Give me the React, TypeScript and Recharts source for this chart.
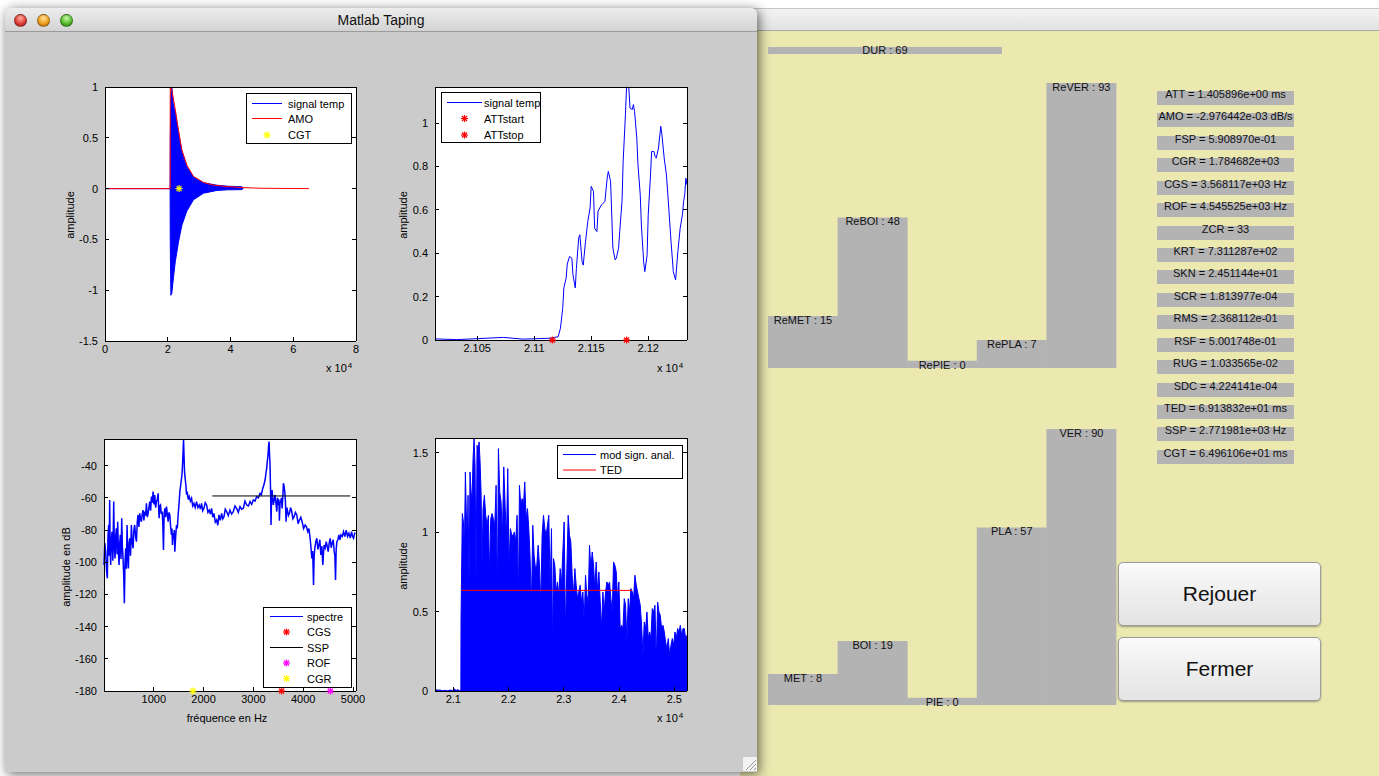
import React from 'react';
import {
  ComposedChart,
  Line,
  Area,
  Scatter,
  XAxis,
  YAxis,
  CartesianGrid,
  BarChart,
  Bar,
  LabelList,
} from 'recharts';

const FONT = '"Liberation Sans", Arial, Helvetica, sans-serif';

// ---- plot 1 : signal temp (x, [low, high]) and AMO envelope
const SIG_ENVELOPE: [number, number, number][] = [
  [0, 0, 0], [20750, 0, 0], [20800, -0.55, 0.5], [21000, -1.05, 0.92], [21300, -1.03, 1.0],
  [21800, -0.88, 0.82], [22400, -0.72, 0.75], [23400, -0.53, 0.56], [24500, -0.36, 0.37],
  [26100, -0.22, 0.22], [28200, -0.11, 0.115], [31400, -0.045, 0.058], [35700, -0.018, 0.033],
  [39000, -0.012, 0.024], [43700, -0.01, 0.018], [44000, 0, 0],
];
const AMO: [number, number][] = [
  [0, 0], [20770, 0], [20800, 1.0], [21300, 0.97], [22400, 0.78], [23400, 0.58], [24500, 0.38],
  [26100, 0.23], [28200, 0.12], [31400, 0.06], [34600, 0.034], [38900, 0.02], [44000, 0.01],
  [50000, 0.003], [65000, 0],
];
const CGT: [number, number][] = [[23600, 0]];

// ---- plot 2 : attack zoom
const SIG_ZOOM: [number, number][] = [
  [21013, 0.005], [21032, 0.002], [21050, 0.006], [21073, 0.012], [21090, 0.004], [21114, 0.008],
  [21121, 0.015], [21123, 0.054], [21125, 0.146], [21126, 0.24], [21128, 0.285], [21129, 0.35],
  [21131, 0.385], [21133, 0.377], [21134, 0.3], [21136, 0.24], [21137, 0.33], [21139, 0.47],
  [21140, 0.485], [21142, 0.36], [21143, 0.345], [21145, 0.454], [21147, 0.546], [21149, 0.608],
  [21150, 0.708], [21152, 0.685], [21153, 0.515], [21155, 0.5], [21156, 0.594], [21159, 0.623],
  [21162, 0.638], [21164, 0.746], [21165, 0.777], [21167, 0.731], [21168, 0.577], [21169, 0.423],
  [21171, 0.369], [21172, 0.377], [21174, 0.423], [21175, 0.5], [21177, 0.638], [21178, 0.823],
  [21180, 1.038], [21181, 1.166], [21183, 1.16], [21184, 1.069], [21186, 1.062], [21187, 1.085],
  [21188, 1.054], [21190, 0.93], [21191, 0.808], [21193, 0.669], [21194, 0.53], [21196, 0.36],
  [21197, 0.315], [21199, 0.39], [21200, 0.577], [21202, 0.76], [21203, 0.869], [21205, 0.869],
  [21206, 0.846], [21207, 0.838], [21209, 0.885], [21211, 0.985], [21212, 0.946], [21214, 0.838],
  [21216, 0.76], [21218, 0.608], [21220, 0.454], [21222, 0.315], [21224, 0.277], [21226, 0.408],
  [21228, 0.515], [21230, 0.577], [21231, 0.638], [21232, 0.669], [21233, 0.746], [21234, 0.715],
];
const ATT_START: [number, number][] = [[21116, 0]];
const ATT_STOP: [number, number][] = [[21181, 0]];

// ---- plot 3 : spectre (Hz, dB)
const SPECTRE: [number, number][] = [
  [0, -101.7], [17, -88], [34, -93.4], [50, -105], [67, -110], [80, -84], [94, -76.8], [104, -96],
  [114, -61.3], [124, -92], [134, -101.7], [148, -86], [161, -81], [178, -99], [195, -62.3],
  [208, -90], [221, -97.6], [235, -84], [248, -78.9], [262, -95], [275, -74.8], [288, -92],
  [302, -101.7], [316, -88], [329, -83], [342, -98], [356, -72.7], [369, -90], [382, -97.6],
  [396, -108], [409, -125.5], [422, -100], [436, -91.3], [450, -104], [463, -76.8], [476, -95],
  [490, -103.8], [503, -88], [517, -85.1], [533, -96], [550, -76.8], [567, -88], [584, -91.3],
  [600, -80], [617, -76.8], [634, -84], [651, -87.2], [668, -75], [684, -70.6], [701, -78],
  [718, -69.6], [735, -73], [751, -74.8], [768, -70], [785, -67.6], [801, -74], [818, -68.5],
  [835, -71], [852, -63.4], [869, -72], [886, -69.6], [902, -66], [919, -62.3], [936, -68],
  [953, -59.2], [970, -63], [986, -56.1], [1003, -64], [1020, -58.2], [1037, -66], [1053, -62.3],
  [1070, -61], [1087, -57.2], [1097, -66], [1107, -72.7], [1120, -65], [1134, -64.4], [1150, -70],
  [1167, -68.5], [1180, -75], [1194, -92.4], [1207, -70], [1221, -66.5], [1238, -72], [1255, -65.4],
  [1271, -70], [1288, -74.8], [1305, -69], [1322, -70.6], [1338, -78], [1355, -83], [1365, -79],
  [1375, -89.3], [1388, -82], [1402, -85.1], [1412, -80], [1422, -93.4], [1439, -84], [1456, -76.8],
  [1472, -79], [1489, -70.6], [1506, -64], [1523, -56.1], [1540, -52], [1557, -47.8], [1567, -45],
  [1577, -39.5], [1587, -32], [1597, -23.6], [1607, -34], [1617, -43.7], [1630, -48], [1644, -52],
  [1657, -58], [1671, -56.1], [1691, -61], [1711, -59.2], [1735, -62], [1758, -60.3], [1781, -65],
  [1805, -63.4], [1830, -66], [1858, -62.3], [1885, -66], [1912, -64.4], [1935, -67], [1959, -63.4],
  [1982, -68], [2006, -66.5], [2033, -63], [2060, -64.4], [2087, -69], [2113, -67.6], [2137, -70],
  [2160, -66.5], [2184, -72], [2207, -69.6], [2235, -75], [2261, -73.7], [2285, -77], [2308, -70.6],
  [2335, -74], [2362, -69.6], [2385, -73], [2409, -71.7], [2435, -67], [2462, -68.5], [2495, -71],
  [2529, -67.6], [2562, -70], [2596, -68.5], [2630, -65], [2663, -66.5], [2697, -69], [2731, -65.4],
  [2765, -67], [2798, -66.5], [2830, -62], [2865, -64.4], [2900, -65], [2932, -62.3], [2965, -64],
  [2999, -61.3], [3032, -62], [3066, -59.2], [3100, -60], [3133, -57.2], [3160, -58], [3187, -54.1],
  [3210, -52], [3234, -48.9], [3250, -45], [3267, -41.6], [3280, -37], [3294, -33.3], [3304, -28],
  [3314, -25], [3324, -33], [3334, -39.5], [3344, -55], [3354, -76.8], [3365, -60], [3375, -55.1],
  [3388, -60], [3401, -64.4], [3418, -61], [3435, -58.2], [3452, -63], [3469, -68.5], [3485, -60],
  [3502, -64.4], [3512, -61], [3522, -74.2], [3535, -63], [3549, -62.3], [3562, -60], [3576, -66.5],
  [3590, -60], [3603, -50.9], [3617, -53], [3630, -56.1], [3643, -62], [3656, -74.8], [3670, -66],
  [3683, -67.6], [3703, -71], [3724, -69.6], [3747, -66], [3770, -68.5], [3793, -73], [3817, -71.7],
  [3844, -69], [3871, -70.6], [3898, -76], [3925, -73.7], [3952, -72], [3978, -74.8], [4008, -79],
  [4039, -76.8], [4065, -78], [4092, -81], [4115, -79], [4139, -85.1], [4156, -91], [4173, -97.6],
  [4190, -93], [4207, -114.1], [4220, -96], [4233, -91.3], [4254, -87], [4274, -85.1], [4294, -92],
  [4314, -89.3], [4334, -86], [4354, -95.5], [4374, -90], [4394, -101.7], [4408, -94], [4421, -89.3],
  [4442, -91], [4462, -87.2], [4482, -90], [4502, -93.4], [4522, -88], [4542, -85.1], [4562, -91],
  [4582, -88.2], [4602, -86], [4623, -93.4], [4636, -96], [4649, -111], [4662, -92], [4676, -87.2],
  [4696, -86], [4717, -83], [4737, -86], [4757, -83], [4784, -84], [4810, -81], [4837, -84],
  [4864, -80], [4891, -84], [4918, -82], [4945, -85], [4971, -81], [4991, -84], [5012, -85.1],
  [5032, -82], [5052, -82],
];
const SSP_LINE: [number, number][] = [[2174, -58.8], [4945, -58.8]];
const CGS_PT: [number, number][] = [[3568, -180]];
const ROF_PT: [number, number][] = [[4545, -180]];
const CGR_PT: [number, number][] = [[1785, -180]];

// ---- plot 4 : module du signal analytique
const MOD_SIG: [number, number][] = [
  [20668, 0.004], [20690, 0.008], [20720, 0.005], [20760, 0.006], [20800, 0.002], [20850, 0.004],
  [20900, 0.001], [20940, 0.006], [20980, 0.003], [21020, 0.012], [21050, 0.004], [21080, 0.008],
  [21110, 0.003], [21136, 0.004], [21139, 0.456], [21163, 1.118], [21182, 1.065], [21200, 0.876],
  [21218, 1.38], [21236, 1.107], [21254, 0.96], [21266, 1.233], [21284, 0.666], [21302, 1.38],
  [21321, 1.254], [21339, 1.212], [21357, 1.464], [21375, 1.59], [21393, 1.422], [21411, 0.687],
  [21429, 1.548], [21447, 1.506], [21466, 1.569], [21484, 1.443], [21502, 1.254], [21520, 0.792],
  [21538, 1.149], [21562, 1.233], [21586, 1.107], [21611, 1.044], [21635, 1.107], [21653, 0.729],
  [21677, 1.086], [21701, 1.118], [21725, 1.086], [21750, 1.044], [21774, 1.296], [21798, 0.582],
  [21816, 1.527], [21840, 1.254], [21864, 1.191], [21888, 0.981], [21913, 1.412], [21937, 1.17],
  [21961, 0.96], [21985, 1.401], [22009, 0.792], [22033, 1.023], [22058, 0.981], [22082, 0.981],
  [22106, 1.002], [22130, 0.939], [22154, 1.107], [22179, 0.582], [22197, 1.296], [22221, 1.17],
  [22245, 1.212], [22269, 1.17], [22293, 1.317], [22317, 1.086], [22342, 1.149], [22366, 1.023],
  [22390, 0.834], [22414, 0.54], [22438, 1.044], [22462, 0.855], [22487, 0.771], [22511, 0.792],
  [22535, 0.918], [22559, 0.792], [22583, 0.54], [22607, 0.981], [22632, 1.107], [22656, 1.023],
  [22680, 0.981], [22704, 1.044], [22728, 1.107], [22752, 0.645], [22777, 1.023], [22795, 0.267],
  [22813, 0.834], [22837, 0.792], [22861, 0.624], [22885, 0.687], [22910, 0.603], [22934, 0.771],
  [22958, 0.666], [22982, 0.876], [23006, 1.065], [23030, 0.372], [23055, 0.771], [23079, 1.107],
  [23103, 0.981], [23127, 0.939], [23151, 0.729], [23175, 0.603], [23200, 0.771], [23224, 0.666],
  [23248, 0.582], [23272, 0.624], [23296, 0.666], [23320, 0.561], [23345, 0.624], [23369, 0.435],
  [23393, 0.729], [23417, 0.603], [23441, 0.561], [23465, 0.918], [23490, 0.771], [23514, 0.876],
  [23538, 0.792], [23562, 0.645], [23586, 0.813], [23610, 0.624], [23635, 0.75], [23659, 0.561],
  [23683, 0.393], [23707, 0.624], [23731, 0.498], [23755, 0.624], [23780, 0.687], [23804, 0.666],
  [23828, 0.687], [23852, 0.582], [23876, 0.498], [23900, 0.813], [23925, 0.792], [23949, 0.75],
  [23973, 0.582], [23997, 0.687], [24021, 0.393], [24045, 0.414], [24070, 0.393], [24094, 0.582],
  [24118, 0.54], [24142, 0.309], [24166, 0.582], [24190, 0.498], [24215, 0.645], [24239, 0.624],
  [24263, 0.582], [24287, 0.729], [24311, 0.666], [24335, 0.624], [24360, 0.582], [24384, 0.54],
  [24408, 0.414], [24432, 0.225], [24456, 0.435], [24481, 0.393], [24505, 0.498], [24529, 0.33],
  [24553, 0.372], [24577, 0.33], [24601, 0.519], [24626, 0.498], [24650, 0.54], [24674, 0.183],
  [24698, 0.561], [24722, 0.498], [24746, 0.477], [24771, 0.393], [24795, 0.414], [24819, 0.372],
  [24843, 0.309], [24867, 0.267], [24891, 0.33], [24916, 0.225], [24940, 0.288], [24964, 0.33],
  [24988, 0.288], [25012, 0.372], [25036, 0.33], [25061, 0.393], [25085, 0.372], [25109, 0.414],
  [25133, 0.351], [25157, 0.393], [25181, 0.393], [25206, 0.33], [25230, 0.351],
];
const TED_LINE: [number, number][] = [[21151, 0.634], [24233, 0.634]];

// ---- right panel
const CATEGORIES = ['MET', 'BOI', 'PIE', 'PLA', 'VER'];
const RE_VALUES = [15, 48, 0, 7, 93];
const CUR_VALUES = [8, 19, 0, 57, 90];
const DUR_VALUE = 69;
const FLOOR = -2.4;

const DESCRIPTORS = [
  'ATT = 1.405896e+00 ms',
  'AMO = -2.976442e-03 dB/s',
  'FSP = 5.908970e-01',
  'CGR = 1.784682e+03',
  'CGS = 3.568117e+03 Hz',
  'ROF = 4.545525e+03 Hz',
  'ZCR = 33',
  'KRT = 7.311287e+02',
  'SKN = 2.451144e+01',
  'SCR = 1.813977e-04',
  'RMS = 2.368112e-01',
  'RSF = 5.001748e-01',
  'RUG = 1.033565e-02',
  'SDC = 4.224141e-04',
  'TED = 6.913832e+01 ms',
  'SSP = 2.771981e+03 Hz',
  'CGT = 6.496106e+01 ms',
];

const pts = (arr: [number, number][]) => arr.map(([x, y]) => ({ x, y }));
const envPts = SIG_ENVELOPE.map(([x, lo, hi]) => ({ x, y: [lo, hi] }));

const starShape = (color: string) => (props: any) => {
  const { cx, cy } = props;
  if (cx == null || cy == null) return <g />;
  const r = 3.5;
  const d = 2.5;
  return (
    <g stroke={color} strokeWidth={1.2}>
      <line x1={cx - r} y1={cy} x2={cx + r} y2={cy} />
      <line x1={cx} y1={cy - r} x2={cx} y2={cy + r} />
      <line x1={cx - d} y1={cy - d} x2={cx + d} y2={cy + d} />
      <line x1={cx - d} y1={cy + d} x2={cx + d} y2={cy - d} />
    </g>
  );
};

const PAD_L = 50;
const PAD_T = 6;
const PAD_R = 6;
const PAD_B = 26;
const axisStroke = { stroke: '#000', shapeRendering: 'crispEdges' } as any;
const tickStyle = { fill: '#000', fontSize: 11, fontFamily: FONT };
const blank = () => '';

interface PlotProps {
  left: number;
  top: number;
  w: number;
  h: number;
  xDomain: [number, number];
  yDomain: [number, number];
  xTicks: number[];
  yTicks: number[];
  xFmt?: (v: number) => string;
  children: React.ReactNode;
}

function Plot({ left, top, w, h, xDomain, yDomain, xTicks, yTicks, xFmt, children }: PlotProps) {
  return (
    <div style={{ position: 'absolute', left: left - PAD_L, top: top - PAD_T }}>
      <ComposedChart
        width={w + PAD_L + PAD_R}
        height={h + PAD_T + PAD_B}
        margin={{ top: PAD_T - 1, right: PAD_R - 1, bottom: 0, left: 0 }}
      >
        <CartesianGrid xAxisId="b" yAxisId="l" horizontal={false} vertical={false} fill="#fff" />
        <XAxis
          xAxisId="b"
          dataKey="x"
          type="number"
          domain={xDomain}
          ticks={xTicks}
          interval={0}
          tickFormatter={xFmt}
          height={PAD_B}
          tickSize={-4}
          tickMargin={8}
          tick={tickStyle}
          axisLine={axisStroke}
          tickLine={axisStroke}
        />
        <XAxis
          xAxisId="t"
          orientation="top"
          type="number"
          domain={xDomain}
          allowDataOverflow
          ticks={xTicks}
          interval={0}
          tickFormatter={blank}
          height={1}
          tickSize={-4}
          axisLine={axisStroke}
          tickLine={axisStroke}
        />
        <YAxis
          yAxisId="l"
          dataKey="y"
          type="number"
          domain={yDomain}
          ticks={yTicks}
          interval={0}
          width={PAD_L}
          tickSize={-4}
          tickMargin={11}
          tick={tickStyle}
          axisLine={axisStroke}
          tickLine={axisStroke}
        />
        <YAxis
          yAxisId="r"
          orientation="right"
          type="number"
          domain={yDomain}
          allowDataOverflow
          ticks={yTicks}
          interval={0}
          width={1}
          tickFormatter={blank}
          tickSize={-4}
          axisLine={axisStroke}
          tickLine={axisStroke}
        />
        {children}
      </ComposedChart>
    </div>
  );
}

interface LegendItem {
  label: string;
  color: string;
  kind: 'line' | 'star';
}

function LegendBox({ left, top, width, height, rows, sample, textX, items }: {
  left: number; top: number; width: number; height: number;
  rows: number[]; sample: [number, number]; textX: number; items: LegendItem[];
}) {
  return (
    <div
      style={{
        position: 'absolute', left, top, width, height, background: '#fff',
        border: '1px solid #000', boxSizing: 'border-box', fontSize: 11, fontFamily: FONT,
      }}
    >
      <svg width={width} height={height} style={{ position: 'absolute', left: -1, top: -1 }}>
        {items.map((it, i) =>
          it.kind === 'line' ? (
            <line key={it.label} x1={sample[0]} x2={sample[1]} y1={rows[i]} y2={rows[i]} stroke={it.color} strokeWidth={1} />
          ) : (
            <g key={it.label}>{starShape(it.color)({ cx: (sample[0] + sample[1]) / 2, cy: rows[i] })}</g>
          ),
        )}
      </svg>
      {items.map((it, i) => (
        <div key={it.label} style={{ position: 'absolute', left: textX - 1, top: rows[i] - 8, lineHeight: '14px', whiteSpace: 'nowrap', color: '#000' }}>
          {it.label}
        </div>
      ))}
    </div>
  );
}

function VLabel({ cx, cy, text }: { cx: number; cy: number; text: string }) {
  return (
    <div
      style={{
        position: 'absolute', left: cx, top: cy, transform: 'translate(-50%, -50%) rotate(-90deg)',
        fontSize: 11, whiteSpace: 'nowrap', lineHeight: '12px',
      }}
    >
      {text}
    </div>
  );
}

function ExpLabel({ left, top }: { left: number; top: number }) {
  return (
    <div style={{ position: 'absolute', left, top, fontSize: 11, lineHeight: '14px', whiteSpace: 'nowrap' }}>
      x 10<span style={{ position: 'relative', top: -4, fontSize: 8, marginLeft: 1 }}>4</span>
    </div>
  );
}

const barLabel = (props: any) => {
  const { x, y, width, value } = props;
  return (
    <text x={x + width / 2} y={y + 8} textAnchor="middle" fontSize={11} fontFamily={FONT} fill="#111">
      {value}
    </text>
  );
};

function StepBars({ left, top, prefix, values }: { left: number; top: number; prefix: string; values: number[] }) {
  const data = CATEGORIES.map((c, i) => ({ name: c, value: values[i], label: `${prefix}${c} : ${values[i]}` }));
  return (
    <div style={{ position: 'absolute', left, top }}>
      <BarChart width={348} height={306} data={data} margin={{ top: 0, right: 0, bottom: 0, left: 0 }} barCategoryGap={0} barGap={0}>
        <XAxis dataKey="name" hide />
        <YAxis type="number" domain={[FLOOR, 100]} hide />
        <Bar dataKey={(d: any) => [FLOOR, d.value]} fill="#b3b3b3" isAnimationActive={false}>
          <LabelList dataKey="label" content={barLabel} />
        </Bar>
      </BarChart>
    </div>
  );
}

function DurBar() {
  const data = [{ name: 'DUR', value: DUR_VALUE, label: `DUR : ${DUR_VALUE}` }];
  return (
    <div style={{ position: 'absolute', left: 768, top: 37 }}>
      <BarChart layout="vertical" width={339} height={27} data={data} margin={{ top: 10, right: 0, bottom: 10, left: 0 }} barCategoryGap={0}>
        <XAxis type="number" domain={[0, 100]} hide />
        <YAxis type="category" dataKey="name" hide />
        <Bar dataKey="value" fill="#b3b3b3" isAnimationActive={false}>
          <LabelList
            dataKey="label"
            content={(p: any) => (
              <text x={p.x + p.width / 2} y={p.y + 7} textAnchor="middle" fontSize={11} fontFamily={FONT} fill="#111">
                {p.value}
              </text>
            )}
          />
        </Bar>
      </BarChart>
    </div>
  );
}

const light = (c1: string, c2: string, c3: string) => ({
  position: 'absolute' as const, top: 6, width: 13, height: 13, borderRadius: '50%',
  boxSizing: 'border-box' as const, border: '1px solid rgba(0,0,0,0.35)',
  background: `radial-gradient(circle at 50% 30%, ${c1}, ${c2} 55%, ${c3})`,
});

const buttonStyle: React.CSSProperties = {
  position: 'absolute', left: 1118, width: 203, height: 64, borderRadius: 5,
  border: '1px solid #9c9c9c', boxSizing: 'border-box',
  background: 'linear-gradient(#fbfbfb, #eeeeee 50%, #e4e4e4)',
  boxShadow: '0 1px 2px rgba(0,0,0,0.35)', display: 'flex', alignItems: 'center',
  justifyContent: 'center', fontSize: 21, color: '#111', fontFamily: FONT,
};

export default function App() {
  const x4 = (v: number) => String(v / 10000);
  return (
    <div style={{ position: 'relative', width: 1379, height: 776, overflow: 'hidden', background: '#fff', fontFamily: FONT, color: '#000' }}>
      <style>{'body{margin:0} .recharts-surface{overflow:visible}'}</style>

      {/* background window on the right */}
      <div style={{ position: 'absolute', left: 740, top: 8, width: 639, height: 23, background: 'linear-gradient(#f3f3f3, #e2e2e2)', borderTop: '1px solid #c6c6c6', borderBottom: '1px solid #a9a9a9', boxSizing: 'border-box' }} />
      <div style={{ position: 'absolute', left: 740, top: 31, width: 639, height: 745, background: '#ebe8b0' }} />

      {/* Matlab window */}
      <div style={{ position: 'absolute', left: 5, top: 8, width: 752, height: 764, background: '#cbcbcb', borderRadius: '6px 6px 0 0', boxShadow: '2px 2px 12px rgba(0,0,0,0.6)' }}>
        <div style={{ position: 'absolute', left: 0, top: 0, width: 752, height: 24, borderRadius: '6px 6px 0 0', background: 'linear-gradient(#ededed, #d3d3d3)', borderBottom: '1px solid #9b9b9b', boxSizing: 'border-box' }}>
          <div style={{ ...light('#ffb0a8', '#e0413a', '#8e1a14'), left: 9 }} />
          <div style={{ ...light('#ffe0a0', '#f0a020', '#a05a00'), left: 32 }} />
          <div style={{ ...light('#c8f5a8', '#58c030', '#2a6a10'), left: 55 }} />
          <div style={{ position: 'absolute', left: 0, width: 752, top: 5, textAlign: 'center', fontSize: 14, lineHeight: '15px', fontFamily: '"Liberation Sans Narrow", "Liberation Sans", Arial, sans-serif', color: '#111' }}>
            Matlab Taping
          </div>
        </div>
        <div style={{ position: 'absolute', left: 738, top: 749, width: 14, height: 14, background: '#f2f2f2' }}>
          <svg width={14} height={14}>
            <line x1={3} y1={13} x2={13} y2={3} stroke="#999" />
            <line x1={7} y1={13} x2={13} y2={7} stroke="#999" />
            <line x1={11} y1={13} x2={13} y2={11} stroke="#999" />
          </svg>
        </div>
      </div>

      {/* plot 1 */}
      <Plot left={105} top={87} w={251} h={254} xDomain={[0, 80000]} yDomain={[-1.5, 1]} xTicks={[0, 20000, 40000, 60000, 80000]} yTicks={[-1.5, -1, -0.5, 0, 0.5, 1]} xFmt={x4}>
        <Area xAxisId="b" yAxisId="l" data={envPts} dataKey="y" type="linear" stroke="#0000ff" fill="#0000ff" fillOpacity={1} strokeWidth={1} dot={false} activeDot={false} isAnimationActive={false} />
        <Line xAxisId="b" yAxisId="l" data={pts(AMO)} dataKey="y" type="linear" stroke="#ff0000" strokeWidth={1} dot={false} activeDot={false} isAnimationActive={false} />
        <Scatter xAxisId="b" yAxisId="l" data={pts(CGT)} shape={starShape('#ffff00')} isAnimationActive={false} />
      </Plot>
      <LegendBox left={246} top={93} width={106} height={51} rows={[10.5, 25.5, 42]} sample={[6, 36]} textX={42}
        items={[{ label: 'signal temp', color: '#0000ff', kind: 'line' }, { label: 'AMO', color: '#ff0000', kind: 'line' }, { label: 'CGT', color: '#ffff00', kind: 'star' }]} />
      <VLabel cx={70} cy={215} text="amplitude" />
      <ExpLabel left={326} top={361} />

      {/* plot 2 */}
      <Plot left={435} top={87} w={252} h={253} xDomain={[21013, 21234]} yDomain={[0, 1.166]} xTicks={[21050, 21100, 21150, 21200]} yTicks={[0, 0.2, 0.4, 0.6, 0.8, 1]} xFmt={x4}>
        <Line xAxisId="b" yAxisId="l" data={pts(SIG_ZOOM)} dataKey="y" type="linear" stroke="#0000ff" strokeWidth={1} dot={false} activeDot={false} isAnimationActive={false} />
        <Scatter xAxisId="b" yAxisId="l" data={pts(ATT_START)} shape={starShape('#ff0000')} isAnimationActive={false} />
        <Scatter xAxisId="b" yAxisId="l" data={pts(ATT_STOP)} shape={starShape('#ff0000')} isAnimationActive={false} />
      </Plot>
      <LegendBox left={441} top={92} width={100} height={51} rows={[10.5, 26.5, 43]} sample={[6, 41]} textX={43}
        items={[{ label: 'signal temp', color: '#0000ff', kind: 'line' }, { label: 'ATTstart', color: '#ff0000', kind: 'star' }, { label: 'ATTstop', color: '#ff0000', kind: 'star' }]} />
      <VLabel cx={403} cy={215} text="amplitude" />
      <ExpLabel left={657} top={361} />

      {/* plot 3 */}
      <Plot left={104} top={439} w={252} h={252} xDomain={[0, 5060]} yDomain={[-180, -23.4]} xTicks={[1000, 2000, 3000, 4000, 5000]} yTicks={[-180, -160, -140, -120, -100, -80, -60, -40]}>
        <Line xAxisId="b" yAxisId="l" data={pts(SPECTRE)} dataKey="y" type="linear" stroke="#0000ff" strokeWidth={1.5} dot={false} activeDot={false} isAnimationActive={false} />
        <Line xAxisId="b" yAxisId="l" data={pts(SSP_LINE)} dataKey="y" type="linear" stroke="#000" strokeWidth={1} dot={false} activeDot={false} isAnimationActive={false} />
        <Scatter xAxisId="b" yAxisId="l" data={pts(CGS_PT)} shape={starShape('#ff0000')} isAnimationActive={false} />
        <Scatter xAxisId="b" yAxisId="l" data={pts(ROF_PT)} shape={starShape('#ff00ff')} isAnimationActive={false} />
        <Scatter xAxisId="b" yAxisId="l" data={pts(CGR_PT)} shape={starShape('#ffff00')} isAnimationActive={false} />
      </Plot>
      <LegendBox left={263} top={607} width={89} height={81} rows={[9.5, 25, 40.5, 56, 71.5]} sample={[7, 40]} textX={44}
        items={[
          { label: 'spectre', color: '#0000ff', kind: 'line' },
          { label: 'CGS', color: '#ff0000', kind: 'star' },
          { label: 'SSP', color: '#000000', kind: 'line' },
          { label: 'ROF', color: '#ff00ff', kind: 'star' },
          { label: 'CGR', color: '#ffff00', kind: 'star' },
        ]} />
      <VLabel cx={66} cy={567} text="amplitude en dB" />
      <div style={{ position: 'absolute', left: 227, top: 711, transform: 'translateX(-50%)', fontSize: 11, lineHeight: '14px', whiteSpace: 'nowrap' }}>fréquence en Hz</div>

      {/* plot 4 */}
      <Plot left={435} top={438} w={252} h={253} xDomain={[20668, 25230]} yDomain={[0, 1.594]} xTicks={[21000, 22000, 23000, 24000, 25000]} yTicks={[0, 0.5, 1, 1.5]} xFmt={x4}>
        <Area xAxisId="b" yAxisId="l" data={pts(MOD_SIG)} dataKey="y" type="linear" stroke="#0000ff" fill="#0000ff" fillOpacity={1} strokeWidth={1} dot={false} activeDot={false} isAnimationActive={false} />
        <Line xAxisId="b" yAxisId="l" data={pts(TED_LINE)} dataKey="y" type="linear" stroke="#ff0000" strokeWidth={1} dot={false} activeDot={false} isAnimationActive={false} />
      </Plot>
      <LegendBox left={557} top={445} width={126} height={34} rows={[9.5, 25]} sample={[6, 39]} textX={43}
        items={[{ label: 'mod sign. anal.', color: '#0000ff', kind: 'line' }, { label: 'TED', color: '#ff0000', kind: 'line' }]} />
      <VLabel cx={403} cy={566} text="amplitude" />
      <ExpLabel left={657} top={711} />

      {/* right panel */}
      <DurBar />
      <StepBars left={768} top={62} prefix="Re" values={RE_VALUES} />
      <StepBars left={768} top={399} prefix="" values={CUR_VALUES} />

      {DESCRIPTORS.map((t, i) => {
        const c = 96 + i * 22.43;
        return (
          <React.Fragment key={t}>
            <div style={{ position: 'absolute', left: 1157, top: c - 5, width: 137, height: 14, background: '#b3b3b3' }} />
            <div style={{ position: 'absolute', left: 1140, width: 171, top: c - 8, lineHeight: '12px', fontSize: 11, textAlign: 'center', color: '#111', whiteSpace: 'nowrap' }}>{t}</div>
          </React.Fragment>
        );
      })}

      <div style={{ ...buttonStyle, top: 562 }}>Rejouer</div>
      <div style={{ ...buttonStyle, top: 637 }}>Fermer</div>
    </div>
  );
}
